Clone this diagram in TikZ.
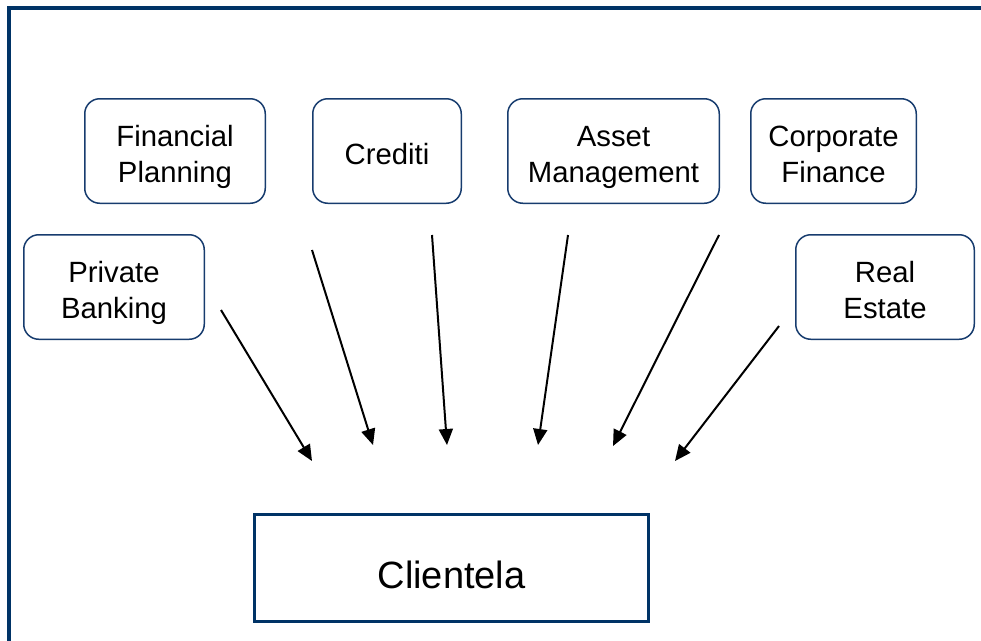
\documentclass[tikz,border=0pt]{standalone}
\usepackage{fontspec}
\setmainfont{Liberation Sans}
\usetikzlibrary{arrows.meta}
\definecolor{navy}{RGB}{0,51,102}
\definecolor{boxline}{RGB}{23,60,110}
% taller first line, so the label sits a little lower in its box
\newcommand{\firststrut}{\rule{0pt}{27.5pt}}
\begin{document}
\begin{tikzpicture}[x=1pt,y=-1pt,
  service/.style={draw=boxline, line width=1.5pt, rounded corners=15pt,
    minimum height=104.5pt, inner sep=0pt, align=center, text depth=0pt,
    font=\fontsize{29.3}{36}\selectfont},
  clientbox/.style={draw=navy, line width=3pt, minimum width=394pt,
    minimum height=107pt, inner sep=0pt, text height=41pt, text depth=0pt,
    font=\fontsize{38}{44}\selectfont},
  flow/.style={line width=2pt, -{Triangle[length=16pt,width=14pt]}}]
\useasboundingbox (0,0) rectangle (981,640);
% outer frame, open towards the right and bottom edges
\draw[navy, line width=4pt] (9,660) -- (9,8) -- (1000,8);

% service boxes
\node[service, minimum width=180.5pt] (pb) at (114,287)   {\firststrut Private\\Banking};
\node[service, minimum width=180.5pt] (fp) at (175,151)   {\firststrut Financial\\Planning};
\node[service, minimum width=148.5pt] (cr) at (387,151)   {\firststrut Crediti};
\node[service, minimum width=211.5pt] (am) at (613.5,151) {\firststrut Asset\\Management};
\node[service, minimum width=165.5pt] (cf) at (833.5,151) {\firststrut Corporate\\Finance};
\node[service, minimum width=178.5pt] (re) at (885,287)   {\firststrut Real\\Estate};

% client box
\node[clientbox] (cl) at (451.5,568) {Clientela};

% arrow tails and tips
\coordinate (pbT) at (221,310); \coordinate (pbH) at (312,461);
\coordinate (fpT) at (312,250); \coordinate (fpH) at (373,445);
\coordinate (crT) at (432,235); \coordinate (crH) at (447,445);
\coordinate (amT) at (568,235); \coordinate (amH) at (538,445);
\coordinate (cfT) at (719,235); \coordinate (cfH) at (613,446);
\coordinate (reT) at (779,326); \coordinate (reH) at (675,461);

\draw[flow] (pbT) -- (pbH);
\draw[flow] (fpT) -- (fpH);
\draw[flow] (crT) -- (crH);
\draw[flow] (amT) -- (amH);
\draw[flow] (cfT) -- (cfH);
\draw[flow] (reT) -- (reH);
\end{tikzpicture}
\end{document}
